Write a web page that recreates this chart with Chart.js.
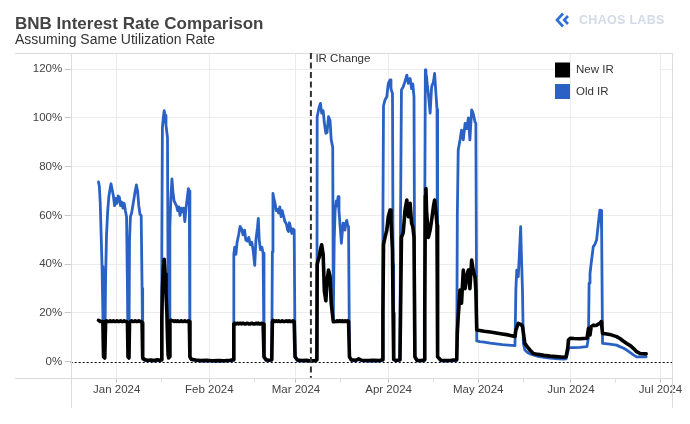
<!DOCTYPE html>
<html>
<head>
<meta charset="utf-8">
<title>BNB Interest Rate Comparison</title>
<script src="https://cdn.jsdelivr.net/npm/chart.js@4.4.1/dist/chart.umd.min.js"></script>
<style>
  html, body { margin: 0; padding: 0; background: #fff; }
  #wrap { position: relative; width: 690px; height: 424px; overflow: hidden; font-family: Helvetica, Arial, "Liberation Sans", sans-serif; }
  #chart { position: absolute; left: 0; top: 0; }
  .title { position: absolute; left: 15px; top: 14px; font-size: 17px; line-height: 20px; font-weight: bold; color: #444; white-space: nowrap; }
  .subtitle { position: absolute; left: 15px; top: 30.5px; font-size: 14px; line-height: 16px; color: #333; white-space: nowrap; }
  .logo { position: absolute; left: 555px; top: 12px; height: 16px; display: flex; align-items: center; }
  .logo span { margin-left: 10px; font-size: 12.5px; font-weight: bold; color: #d3dbe8; letter-spacing: 0.3px; }
</style>
</head>
<body>
<div id="wrap">
  <canvas id="chart" width="690" height="424"></canvas>
  <div class="title">BNB Interest Rate Comparison</div>
  <div class="subtitle">Assuming Same Utilization Rate</div>
  <div class="logo">
    <svg width="14" height="16" viewBox="0 0 14 16"><path d="M8 1.5 L2 8 L8 14.5" stroke="#2d6fd8" stroke-width="2.6" fill="none"/><path d="M13 4 L9.2 8 L13 12" stroke="#2d6fd8" stroke-width="2.6" fill="none"/></svg>
    <span>CHAOS LABS</span>
  </div>
</div>
<script>
// days counted from 2024-01-01, rates in %
const days = [
  // late Dec - early Jan
  -6.1, -5.8, -5.5, -5.2, -4.9, -4.6, -4.4, -4.0, -3.7, -3.4, -3.0, -2.6, -2.2, -1.9, -1.5, -1.1, -0.7, -0.3, 0.1, 0.5, 0.9, 1.3,
  1.7, 2.1, 2.5, 2.9, 3.3, 3.6, 3.8, 4.1, 4.3, 4.6, 5.0, 5.4, 5.8, 6.2, 6.6, 7.0, 7.4, 7.8, 8.2, 8.5, 8.7,
  9.5, 10.5, 11.5, 12.5, 13.5, 14.5, 14.9,
  // mid Jan
  15.1, 15.3, 15.6, 15.9, 16.2, 16.5, 16.8, 17.0, 17.2, 17.4, 17.6, 17.8, 18.1, 18.5, 18.8, 19.2, 19.6, 20.0, 20.4, 20.8,
  21.2, 21.6, 22.0, 22.4, 22.8, 23.2, 23.6, 24.0, 24.3, 24.5,
  25.0, 26.5, 28, 30, 32, 34, 36, 38, 39.0,
  // Feb
  39.2, 39.5, 39.9, 40.3, 40.8, 41.3, 41.8, 42.3, 42.8, 43.2, 43.7, 44.2, 44.7, 45.2, 45.7, 46.2, 46.6, 47.1, 47.4, 47.7,
  48.1, 48.6, 49.0, 49.3,
  50, 51, 51.9,
  52.1, 52.3, 52.6, 53.0, 53.4, 53.8, 54.2, 54.6, 55.0, 55.4, 55.8, 56.3, 56.8, 57.2, 57.5, 57.8, 58.2, 58.6, 59.0, 59.4, 59.7,
  60.5, 62, 63.5, 65, 66.5, 67.0,
  // Mar, after the change
  67.1, 67.5, 67.8, 68.2, 68.6, 69.1, 69.5, 70.0, 70.4, 70.9, 71.4, 71.8, 72.3, 72.5,
  72.8, 73.1, 73.5, 73.8, 74.1, 74.4, 74.7, 75.0, 75.2, 75.5, 75.8, 76.1, 76.4, 76.7, 77.0, 77.3, 77.6, 77.9,
  78.5, 80, 81, 82, 84, 86, 88, 88.9,
  // Apr
  89.1, 89.3, 89.8, 90.4, 90.9, 91.5, 91.8, 92.3, 92.5, 92.7,
  93.5, 94.8,
  95.0, 95.3, 95.9, 96.5, 97.1, 97.6, 98.2, 98.7, 99.1, 99.5, 99.8,
  100.5, 102, 103.0,
  103.1, 103.3, 103.5, 103.7, 104.0, 104.3, 104.9, 105.4, 106.0, 106.4, 106.9, 107.2, 107.4,
  108.5, 110, 112, 113.8,
  114.0, 114.3, 114.9, 115.4, 116.0, 116.6, 117.1, 117.7, 118.2, 118.8, 119.3, 119.9, 120.2, 120.5,
  // May - Jun
  121.5, 123, 125, 127, 129, 131, 133.3,
  133.6, 133.9, 134.4, 134.8, 135.2, 135.5, 135.8, 136.1, 136.6, 137.5, 138.3, 139.4, 141, 143, 145, 147, 149.5, 150.4,
  151.0, 151.2, 151.8, 153, 155, 157.4, 157.9, 158.1, 158.4, 158.8, 159.5, 160.0, 160.6, 161.2, 161.7, 162.1, 162.3, 162.6,
  163.5, 165, 167.3, 168.4, 169.5, 170.7, 172, 172.9, 174.0, 175.1, 177.2
];

const newIR = [
  17, 16.8, 16.5, 16.5, 16.5, 16, 2, 1.5, 16.5, 16.8, 16.5, 16.5, 16.8, 16.5, 16.5, 16.8, 16.5, 16.5, 16.8, 16.5, 16.5, 16.8,
  16.5, 16.5, 16.8, 16.5, 16.5, 16, 2, 1.5, 16, 16.5, 16.8, 16.5, 16.5, 16.8, 16.5, 16.5, 16.8, 16.5, 16.5, 16, 1.5,
  0.8, 0.6, 0.7, 0.5, 0.8, 0.6, 0.8,
  17, 30, 38, 42, 36, 28, 20, 10, 3, 1.5, 2, 16.5, 17, 16.8, 16.8, 16.5, 16.8, 16.5, 16.8, 16.5,
  16.5, 16.8, 16.5, 16.5, 16.8, 16.5, 16.5, 16.8, 16.5, 2,
  1, 0.7, 0.5, 0.6, 0.4, 0.5, 0.4, 0.6, 0.8,
  15.5, 15.8, 15.5, 15.8, 15.5, 15.8, 15.5, 15.8, 15.5, 15.5, 15.8, 15.5, 15.5, 15.8, 15.5, 15.5, 15.8, 15.5, 15.8, 15.5,
  15.5, 15.8, 15.5, 2,
  0.8, 0.6, 0.8,
  16.5, 17, 16.8, 16.5, 16.8, 16.5, 16.8, 16.5, 16.5, 16.8, 16.5, 16.5, 16.8, 16.5, 16.5, 16.8, 16.5, 16.5, 16.8, 16.5, 2,
  0.7, 0.5, 0.6, 0.3, 0.5, 0.8,
  40, 42, 43, 46, 48, 44, 29, 25, 33, 37.6, 35, 24, 18.5, 16.4,
  16.4, 16.5, 16.5, 16.8, 16.5, 16.5, 16.8, 16.5, 16.5, 16.8, 16.5, 16.5, 16.8, 16.5, 16.5, 16.8, 16.5, 2,
  0.8, 0.6, 1.2, 0.6, 0.5, 0.6, 0.5, 0.8,
  20, 48, 51, 54, 59.5, 62.2, 58, 45.8, 20, 1,
  0.5, 0.8,
  20, 51, 53, 62.2, 66.3, 59.5, 65, 56.8, 55.4, 51, 2,
  0.6, 0.5, 0.8,
  20, 68, 71, 62, 56.8, 51, 54, 58, 63.6, 66.3, 60.8, 56, 2,
  0.6, 0.5, 0.6, 0.8,
  12, 18.5, 29.4, 24, 37.6, 30, 34.9, 37.6, 30, 41.7, 37.6, 34.9, 29.4, 13,
  12.8, 12.5, 12.2, 11.8, 11.4, 11.0, 10.3,
  13, 14, 15.7, 15.5, 15.3, 15, 14.5, 12, 7.5, 6, 4.8, 3.4, 3.0, 2.6, 2.3, 2.1, 1.8, 2,
  6, 8.9, 9.6, 9.5, 9.4, 9.6, 13.7, 12.5, 11, 14.4, 15, 14.8, 15, 15.5, 15.7, 16.4, 15, 11.6,
  11.5, 11.2, 10.3, 9.5, 8.5, 7.5, 6.5, 5.5, 4.1, 3.4, 3.2
];

const oldIR = [
  73.8, 72, 65, 52, 39, 18, 2, 1.8, 35, 52, 62, 68, 71, 73, 70.5, 68, 64, 67, 65, 68, 67.5, 64,
  65.5, 63, 65, 62, 59.5, 30, 2, 1.8, 50, 59.5, 61, 64, 67, 70, 72.5, 70, 64, 60.5, 60, 30, 1,
  0.5, 0.4, 0.5, 0.3, 0.5, 0.4, 0.6,
  45, 96, 100, 103, 101, 97, 94, 92, 30, 2, 2, 55, 66, 75, 70, 66, 65, 64, 62, 63.5,
  60, 63, 61.5, 63, 57.5, 63, 67, 71, 70, 2,
  0.8, 0.5, 0.3, 0.4, 0.3, 0.3, 0.3, 0.4, 0.5,
  44, 47, 44, 49, 52, 55.5, 54.5, 52, 54, 50, 49.5, 51, 48, 49, 45.5, 39.5, 50, 55, 58.8, 50,
  46, 47, 44.5, 2,
  0.5, 0.4, 0.6,
  45, 69, 67, 65, 62, 62.5, 61, 63.5, 59.5, 62, 60, 57.5, 56.5, 54, 53.4, 57, 55, 52.6, 54.5, 54, 2,
  0.4, 0.3, 0.4, 0.3, 0.4, 0.6,
  100.5, 103, 104.6, 106, 102, 103, 98, 93.7, 94, 100.5, 99, 91, 88, 18,
  50, 62, 66, 64, 67.7, 62, 56.8, 52, 48.6, 53, 56.8, 55, 54, 57, 58, 56, 55.4, 2,
  0.5, 0.4, 0.8, 0.4, 0.3, 0.4, 0.3, 0.5,
  60, 105, 107.4, 108.7, 114.2, 115.6, 112, 110, 40, 0.8,
  0.3, 0.6,
  60, 111.5, 112.8, 115, 117.6, 114.2, 116.2, 112, 114, 108.7, 2,
  0.4, 0.3, 0.5,
  60, 119.7, 118, 116.9, 113, 110, 102, 112.8, 114.8, 118.3, 109, 103.5, 2,
  0.4, 0.3, 0.4, 0.5,
  60, 86.9, 91, 95, 91, 97.8, 95.6, 100, 91, 103.3, 101.9, 98.5, 97.8, 8.5,
  8.2, 8.0, 7.6, 7.3, 7.0, 6.8, 6.6,
  30, 37.6, 34.9, 45, 55.4, 41.7, 29.4, 7.5, 4.8, 3.8, 3.2, 2.8, 2.2, 1.8, 1.5, 1.3, 1.1, 1.2,
  4, 5.5, 5.8, 5.8, 5.9, 6.2, 10, 32.2, 36, 40.4, 47.2, 48, 49.9, 56.8, 62.2, 62, 53, 7.5,
  7.4, 7.2, 6.8, 6.2, 5.6, 4.8, 3.6, 2.8, 2.0, 2.0, 2.0
];

const monthTicks = [0, 31, 60, 91, 121, 152, 182];
const monthLabels = ['Jan 2024', 'Feb 2024', 'Mar 2024', 'Apr 2024', 'May 2024', 'Jun 2024', 'Jul 2024'];
const midMonthTicks = [15, 46, 75, 106, 136, 167];
const yTicks = [0, 20, 40, 60, 80, 100, 120];
const irChangeDay = 65;
const seriesNames = ['New IR', 'Old IR'];

if (days.length !== newIR.length || days.length !== oldIR.length) {
    console.warn('length mismatch', days.length, newIR.length, oldIR.length);
}

const BLUE = '#2962c4';
const FONT = 'Helvetica, Arial, "Liberation Sans", sans-serif';

const toPoints = arr => days.map((d, i) => ({ x: d, y: arr[i] }));
const isMonth = c => c.tick && monthTicks.includes(c.tick.value);

// zero line, IR change marker, legend and frame
const extras = {
    id: 'extras',
    beforeDatasetsDraw(chart) {
        const { ctx, chartArea: a, scales: { y } } = chart;
        const y0 = Math.round(y.getPixelForValue(0)) + 0.5;
        ctx.save();
        ctx.strokeStyle = '#000';
        ctx.lineWidth = 1;
        ctx.setLineDash([2, 2]);
        ctx.beginPath();
        ctx.moveTo(a.left, y0);
        ctx.lineTo(a.right, y0);
        ctx.stroke();
        ctx.restore();
    },
    afterDraw(chart) {
        const { ctx, chartArea: a, scales: { x } } = chart;
        ctx.save();

        // frame
        ctx.strokeStyle = '#dcdcdc';
        ctx.lineWidth = 1;
        ctx.beginPath();
        ctx.moveTo(15, Math.round(a.top) + 0.5);
        ctx.lineTo(a.right, Math.round(a.top) + 0.5);
        ctx.moveTo(15, Math.round(a.bottom) + 0.5);
        ctx.lineTo(a.right, Math.round(a.bottom) + 0.5);
        ctx.moveTo(Math.round(a.left) + 0.5, a.top);
        ctx.lineTo(Math.round(a.left) + 0.5, 408);
        ctx.moveTo(Math.round(a.right) - 0.5, a.top);
        ctx.lineTo(Math.round(a.right) - 0.5, 408);
        ctx.stroke();

        // IR change
        const xc = x.getPixelForValue(irChangeDay);
        ctx.strokeStyle = '#333';
        ctx.lineWidth = 2;
        ctx.setLineDash([6, 3.5]);
        ctx.beginPath();
        ctx.moveTo(xc, a.top);
        ctx.lineTo(xc, a.bottom);
        ctx.stroke();
        ctx.setLineDash([]);
        ctx.fillStyle = '#333';
        ctx.font = '11.5px ' + FONT;
        ctx.textBaseline = 'middle';
        ctx.textAlign = 'left';
        ctx.fillText('IR Change', xc + 4.5, a.top + 5.5);

        // legend
        ctx.fillStyle = '#fff';
        ctx.fillRect(572.5, 55, 87, 50);
        const colors = ['#000', BLUE];
        seriesNames.forEach((name, i) => {
            const top = 62.5 + i * 21.5;
            ctx.fillStyle = colors[i];
            ctx.fillRect(555, top, 15, 15);
            ctx.fillStyle = '#333';
            ctx.fillText(name, 576, top + 7.8);
        });
        ctx.restore();
    }
};

new Chart(document.getElementById('chart'), {
    type: 'line',
    data: {
        datasets: [
            { label: seriesNames[0], data: toPoints(newIR), borderColor: '#000', borderWidth: 3.6,
              pointRadius: 0, tension: 0, borderJoinStyle: 'round', borderCapStyle: 'round' },
            { label: seriesNames[1], data: toPoints(oldIR), borderColor: BLUE, borderWidth: 2.8,
              pointRadius: 0, tension: 0, borderJoinStyle: 'round', borderCapStyle: 'round' }
        ]
    },
    options: {
        responsive: false,
        animation: false,
        layout: { padding: { top: 53, right: 16.7, bottom: 0, left: 0 } },
        plugins: { legend: { display: false }, tooltip: { enabled: false } },
        scales: {
            x: {
                type: 'linear',
                min: -15.39,
                max: 186.28,
                afterBuildTicks: s => {
                    s.ticks = [...monthTicks, ...midMonthTicks].sort((p, q) => p - q).map(v => ({ value: v }));
                },
                afterFit: s => { s.height = 46.3; },
                border: { display: false },
                grid: {
                    color: c => isMonth(c) ? '#ececec' : 'rgba(0,0,0,0)',
                    tickLength: 5,
                    tickColor: c => isMonth(c) ? '#c4c4c4' : '#e0e0e0'
                },
                ticks: {
                    autoSkip: false,
                    maxRotation: 0,
                    padding: 0,
                    color: '#444',
                    font: { family: FONT, size: 11.5 },
                    callback: v => {
                        const i = monthTicks.indexOf(v);
                        return i >= 0 ? monthLabels[i] : '';
                    }
                }
            },
            y: {
                min: -6.56,
                max: 126.65,
                afterBuildTicks: s => { s.ticks = yTicks.map(v => ({ value: v })); },
                afterFit: s => { s.width = 70.7; },
                border: { display: false },
                grid: {
                    color: c => (c.tick && c.tick.value === 0) ? 'rgba(0,0,0,0)' : '#ececec',
                    tickLength: 6,
                    tickColor: '#c8c8c8'
                },
                ticks: {
                    padding: 2.5,
                    color: '#444',
                    font: { family: FONT, size: 11.5 },
                    callback: v => v + '%'
                }
            }
        }
    },
    plugins: [extras]
});
</script>
</body>
</html>
